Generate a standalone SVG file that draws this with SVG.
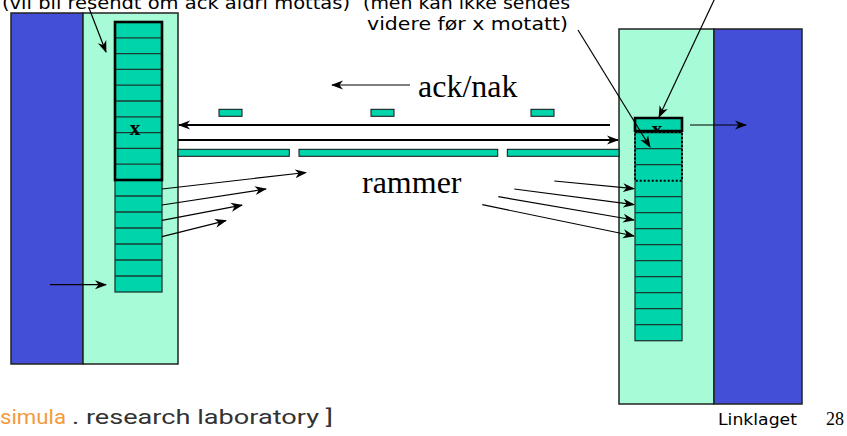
<svg xmlns="http://www.w3.org/2000/svg" width="847" height="436" viewBox="0 0 847 436">
  <style>
    .host-blue { fill: #434fd6; stroke: #222; stroke-width: 1.5; }
    .host-green { fill: #a7fbd7; stroke: #222; stroke-width: 1.5; }
    .slot { fill: #00d4aa; stroke: #1b3a33; stroke-width: 1.3; }
    .frame { fill: #00d4aa; stroke: #111; stroke-width: 1; }
    .wire { stroke: #000; stroke-width: 2; fill: none; }
    .arrow { stroke: #000; stroke-width: 1.2; fill: none; }
    .note { font-family: "DejaVu Sans", "Liberation Sans", sans-serif; font-size: 17px; fill: #000; }
    .big { font-family: "Liberation Serif", "Times New Roman", serif; font-size: 32px; fill: #000; }
    .mark { font-family: "Liberation Serif", serif; font-size: 21px; font-weight: bold; fill: #000; }
  </style>
  <defs>
    <marker id="head" viewBox="0 0 12 10" refX="11" refY="5" markerWidth="12" markerHeight="10" markerUnits="userSpaceOnUse" orient="auto">
      <path d="M0,0.5 L12,5 L0,9.5 L3.5,5 Z" fill="#000"/>
    </marker>
  </defs>

  <!-- sending host -->
  <g id="sender">
    <rect class="host-blue" x="11" y="13" width="72" height="351"/>
    <rect class="host-green" x="83" y="13" width="95" height="351"/>
  </g>

  <!-- sender window buffer -->
  <g id="sender-buffer">
    <rect class="slot" x="115" y="22" width="47" height="270"/>
    <g stroke="#1b3a33" stroke-width="1.3">
      <line x1="115" y1="37.8" x2="162" y2="37.8"/>
      <line x1="115" y1="53.6" x2="162" y2="53.6"/>
      <line x1="115" y1="69.4" x2="162" y2="69.4"/>
      <line x1="115" y1="85.2" x2="162" y2="85.2"/>
      <line x1="115" y1="101" x2="162" y2="101"/>
      <line x1="115" y1="116.8" x2="162" y2="116.8"/>
      <line x1="115" y1="132.6" x2="162" y2="132.6"/>
      <line x1="115" y1="148.4" x2="162" y2="148.4"/>
      <line x1="115" y1="164.2" x2="162" y2="164.2"/>
      <line x1="115" y1="196" x2="162" y2="196"/>
      <line x1="115" y1="212" x2="162" y2="212"/>
      <line x1="115" y1="228" x2="162" y2="228"/>
      <line x1="115" y1="244" x2="162" y2="244"/>
      <line x1="115" y1="260" x2="162" y2="260"/>
      <line x1="115" y1="276" x2="162" y2="276"/>
    </g>
    <rect x="115" y="22" width="47" height="158" fill="none" stroke="#000" stroke-width="2.6"/>
    <text class="mark" x="135" y="135" text-anchor="middle">x</text>
  </g>

  <!-- receiving host -->
  <g id="receiver">
    <rect class="host-green" x="619" y="29" width="95" height="375"/>
    <rect class="host-blue" x="714" y="29" width="88" height="375"/>
  </g>

  <!-- receiver buffer -->
  <g id="receiver-buffer">
    <rect x="635" y="118" width="47" height="14" fill="#00d4aa"/>
    <text class="mark" x="657" y="136" text-anchor="middle">x</text>
    <rect class="slot" x="635" y="132.7" width="47" height="208"/>
    <g stroke="#1b3a33" stroke-width="1.3">
      <line x1="635" y1="148.7" x2="682" y2="148.7"/>
      <line x1="635" y1="164.7" x2="682" y2="164.7"/>
      <line x1="635" y1="196.7" x2="682" y2="196.7"/>
      <line x1="635" y1="212.7" x2="682" y2="212.7"/>
      <line x1="635" y1="228.7" x2="682" y2="228.7"/>
      <line x1="635" y1="244.7" x2="682" y2="244.7"/>
      <line x1="635" y1="260.7" x2="682" y2="260.7"/>
      <line x1="635" y1="276.7" x2="682" y2="276.7"/>
      <line x1="635" y1="292.7" x2="682" y2="292.7"/>
      <line x1="635" y1="308.7" x2="682" y2="308.7"/>
      <line x1="635" y1="324.7" x2="682" y2="324.7"/>
    </g>
    <rect x="635" y="132" width="47" height="48.7" fill="none" stroke="#000" stroke-width="2" stroke-dasharray="2 2"/>
    <path d="M635,132 V118 H682 V132" fill="none" stroke="#000" stroke-width="2.6"/>
    <line x1="635" y1="131" x2="682" y2="131" stroke="#000" stroke-width="2.6"/>
  </g>

  <!-- link: frames and acks in transit -->
  <g id="link">
    <rect class="frame" x="219" y="109.3" width="23" height="7"/>
    <rect class="frame" x="371" y="109.3" width="23" height="7"/>
    <rect class="frame" x="531" y="109.3" width="23" height="7"/>
    <rect class="frame" x="178" y="149.3" width="111.3" height="7"/>
    <rect class="frame" x="299" y="149.3" width="198.7" height="7"/>
    <rect class="frame" x="507.3" y="149.3" width="111.7" height="7"/>
  </g>

  <!-- connectors -->
  <g id="connectors">
    <line class="wire" x1="610" y1="125" x2="179" y2="125" marker-end="url(#head)"/>
    <line class="wire" x1="178" y1="140" x2="618" y2="140" marker-end="url(#head)"/>
    <line class="arrow" x1="410" y1="85" x2="332" y2="85" marker-end="url(#head)"/>

    <line class="arrow" x1="162" y1="189" x2="306" y2="172.5" marker-end="url(#head)"/>
    <line class="arrow" x1="162" y1="205" x2="266" y2="189" marker-end="url(#head)"/>
    <line class="arrow" x1="162" y1="220.3" x2="242" y2="205.2" marker-end="url(#head)"/>
    <line class="arrow" x1="162" y1="236.7" x2="226" y2="220.6" marker-end="url(#head)"/>
    <line class="arrow" x1="50" y1="284.7" x2="106" y2="284.7" marker-end="url(#head)"/>

    <line class="arrow" x1="554.3" y1="181" x2="634" y2="188.7" marker-end="url(#head)"/>
    <line class="arrow" x1="514.3" y1="189" x2="634" y2="204.7" marker-end="url(#head)"/>
    <line class="arrow" x1="498.3" y1="196.7" x2="634" y2="220" marker-end="url(#head)"/>
    <line class="arrow" x1="482.3" y1="204.7" x2="634" y2="236" marker-end="url(#head)"/>
    <line class="arrow" x1="690" y1="125" x2="746" y2="125" marker-end="url(#head)"/>

    <line class="arrow" x1="89" y1="8" x2="106" y2="52" marker-end="url(#head)"/>
    <line class="arrow" x1="578" y1="30" x2="650" y2="147" marker-end="url(#head)"/>
    <line class="arrow" x1="716" y1="-4" x2="659" y2="117" marker-end="url(#head)"/>
  </g>

  <!-- labels (the first lines run off the top edge) -->
  <g id="labels">
    <text class="note" x="2" y="8.5" textLength="348" lengthAdjust="spacingAndGlyphs">(vil bli resendt om ack aldri mottas)</text>
    <text class="note" x="363" y="9" textLength="207" lengthAdjust="spacingAndGlyphs">(men kan ikke sendes</text>
    <text class="note" x="367" y="29.5" textLength="201" lengthAdjust="spacingAndGlyphs">videre før x motatt)</text>
    <text class="big" x="418" y="97">ack/nak</text>
    <text class="big" x="362" y="193">rammer</text>
  </g>

  <!-- footer -->
  <g id="footer">
    <text x="0" y="424" font-family="Roboto, 'Liberation Sans', sans-serif" font-size="21" fill="#f39a3b" textLength="66" lengthAdjust="spacingAndGlyphs">simula</text>
    <text x="72" y="424" font-family="Roboto, 'Liberation Sans', sans-serif" font-size="21" fill="#333" textLength="261" lengthAdjust="spacingAndGlyphs">. research laboratory ]</text>
    <text x="718" y="425" font-family="'DejaVu Sans', sans-serif" font-size="15" fill="#000" textLength="79" lengthAdjust="spacingAndGlyphs">Linklaget</text>
    <text x="826" y="425" font-family="'Liberation Serif', serif" font-size="18" fill="#000">28</text>
  </g>
</svg>
